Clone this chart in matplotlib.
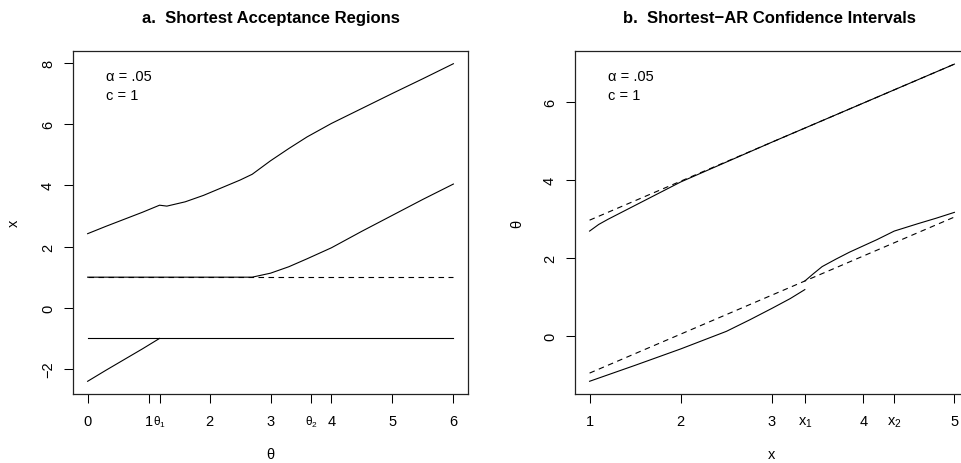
import matplotlib
matplotlib.use("Agg")
import matplotlib.pyplot as plt

plt.rcParams['font.family'] = ['Liberation Sans', 'DejaVu Sans']
plt.rcParams['mathtext.fontset'] = 'custom'
plt.rcParams['mathtext.rm'] = 'Liberation Sans'
plt.rcParams['mathtext.it'] = 'Liberation Sans'

# ---- panel a: shortest acceptance regions (x against theta) ----
theta_upper = [0, 0.3, 0.6, 0.9, 1.18, 1.3, 1.6, 1.9, 2.2, 2.5, 2.7, 3.0, 3.3, 3.6, 4.0, 4.5, 5.0, 5.5, 6.0]
x_upper = [2.42, 2.66, 2.89, 3.12, 3.35, 3.32, 3.46, 3.67, 3.92, 4.17, 4.36, 4.80, 5.20, 5.58, 6.02, 6.51, 7.00, 7.48, 7.97]

theta_low = [0, 0.3, 0.6, 0.9, 1.18]
x_low = [-2.40, -2.04, -1.69, -1.34, -1.0]

theta_mid = [0, 2.7, 3.0, 3.3, 3.6, 4.0, 4.5, 5.0, 5.5, 6.0]
x_mid = [1.0, 1.0, 1.13, 1.34, 1.60, 1.96, 2.50, 3.02, 3.54, 4.04]

theta_flat = [0, 6]
x_flat_lo = [-1, -1]
x_flat_hi = [1, 1]

theta1, theta2 = 1.18, 3.67

# ---- panel b: shortest-AR confidence intervals (theta against x) ----
xb_upper = [1.0, 1.1, 1.2, 1.4, 1.6, 1.8, 2.0, 2.5, 3.0, 3.5, 4.0, 4.5, 5.0]
th_upper = [2.68, 2.85, 2.98, 3.22, 3.46, 3.70, 3.94, 4.45, 4.96, 5.46, 5.96, 6.46, 6.96]

xb_low1 = [1.0, 1.5, 2.0, 2.5, 2.76, 3.0, 3.2, 3.36]
th_low1 = [-1.17, -0.76, -0.34, 0.11, 0.41, 0.70, 0.95, 1.18]

xb_low2 = [3.36, 3.45, 3.55, 3.7, 3.85, 4.0, 4.15, 4.34, 4.6, 4.8, 5.0]
th_low2 = [1.40, 1.58, 1.77, 1.96, 2.14, 2.30, 2.46, 2.68, 2.87, 3.01, 3.16]

xb_dash = [1, 5]
th_dash_hi = [2.96, 6.96]
th_dash_lo = [-0.96, 3.04]

x1, x2 = 3.36, 4.34

LW = 0.8
DASH = (0, (5, 4))
FS = 10.5
TFS = 12

fig = plt.figure(figsize=(9.61, 4.64), dpi=100)
axa = fig.add_axes([73 / 961, 69 / 464, 395 / 961, 343 / 464])
axb = fig.add_axes([575 / 961, 69 / 464, 394 / 961, 343 / 464])


def style(ax):
    for s in ax.spines.values():
        s.set_linewidth(0.9)
        s.set_color('#222222')
    ax.tick_params(direction='out', length=6.5, width=0.75, labelsize=FS, pad=6.5)
    ax.tick_params(axis='x', pad=8)
    ax.tick_params(axis='y', labelrotation=90)
    for lbl in ax.get_yticklabels():
        lbl.set_va('center')


# panel a
axa.plot(theta_upper, x_upper, 'k-', lw=LW)
axa.plot(theta_low, x_low, 'k-', lw=LW)
axa.plot(theta_mid, x_mid, 'k-', lw=LW)
axa.plot(theta_flat, x_flat_lo, 'k-', lw=LW)
axa.plot(theta_flat, x_flat_hi, 'k', lw=LW, linestyle=DASH)
axa.set_xlim(-0.24, 6.24)
axa.set_ylim(-2.815, 8.385)
axa.set_xticks([0, 1, theta1, 2, 3, theta2, 4, 5, 6])
axa.set_xticklabels(['0', '1', r'$\theta_1$', '2', '3', r'$\theta_2$', '4', '5', '6'])
axa.set_yticks([-2, 0, 2, 4, 6, 8])
style(axa)
for lbl in axa.get_xticklabels():
    if 'theta' in lbl.get_text():
        lbl.set_fontsize(8.5)
axa.set_xlabel('θ', fontsize=FS)
axa.xaxis.set_label_coords(0.5, -0.155)
axa.set_ylabel('x', fontsize=FS)
axa.yaxis.set_label_coords(-0.133, 0.5)
axa.text(0.5, 1.098, 'a.  Shortest Acceptance Regions', transform=axa.transAxes,
         ha='center', va='center', fontsize=TFS, fontweight='bold')
axa.text(0.0835, 0.928, 'α = .05', transform=axa.transAxes, ha='left', va='center', fontsize=FS)
axa.text(0.0835, 0.873, 'c = 1', transform=axa.transAxes, ha='left', va='center', fontsize=FS)

# panel b
axb.plot(xb_upper, th_upper, 'k-', lw=LW)
axb.plot(xb_low1, th_low1, 'k-', lw=LW)
axb.plot(xb_low2, th_low2, 'k-', lw=LW)
axb.plot(xb_dash, th_dash_hi, 'k', lw=LW, linestyle=DASH)
axb.plot(xb_dash, th_dash_lo, 'k', lw=LW, linestyle=DASH)
axb.set_xlim(0.84, 5.16)
axb.set_ylim(-1.496, 7.296)
axb.set_xticks([1, 2, 3, x1, 4, x2, 5])
axb.set_xticklabels(['1', '2', '3', r'x$_1$', '4', r'x$_2$', '5'])
axb.set_yticks([0, 2, 4, 6])
style(axb)
axb.set_xlabel('x', fontsize=FS)
axb.xaxis.set_label_coords(0.5, -0.155)
axb.set_ylabel('θ', fontsize=FS)
axb.yaxis.set_label_coords(-0.13, 0.5)
axb.text(0.5 - 3 / 394, 1.098, 'b.  Shortest\u2212AR Confidence Intervals', transform=axb.transAxes,
         ha='center', va='center', fontsize=TFS, fontweight='bold')
axb.text(0.083, 0.928, 'α = .05', transform=axb.transAxes, ha='left', va='center', fontsize=FS)
axb.text(0.083, 0.873, 'c = 1', transform=axb.transAxes, ha='left', va='center', fontsize=FS)

fig.savefig('out.png', dpi=100)
